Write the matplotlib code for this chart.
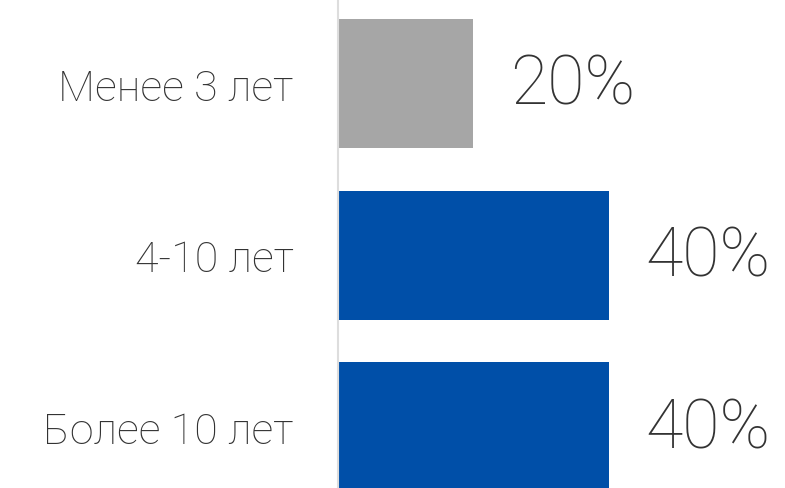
import matplotlib
matplotlib.use("Agg")
import matplotlib.pyplot as plt

categories = ["Менее 3 лет", "4-10 лет", "Более 10 лет"]
values = [20, 40, 40]
colors = ["#a6a6a6", "#004fa8", "#004fa8"]
value_labels = ["20%", "40%", "40%"]

plt.rcParams["font.family"] = ["Roboto", "DejaVu Sans"]

fig = plt.figure(figsize=(7.85, 4.89), dpi=100)
ax = fig.add_axes([338 / 785, 0, 447 / 785, 1])

pos = range(len(categories))
ax.barh(pos, values, height=0.752, color=colors, left=0)
ax.set_xlim(0, 66)
ax.set_ylim(2.355, -0.492)

# value labels to the right of each bar
for i, (v, lab) in enumerate(zip(values, value_labels)):
    ax.text(v + 5.4, i + 0.01, lab, va="center", ha="left", fontsize=49,
            color="#333333", fontweight="light")

ax.set_yticks(list(pos))
ax.set_yticklabels(categories, fontsize=31, color="#333333", fontweight="light")
ax.tick_params(axis="y", length=0, pad=32)
ax.set_xticks([])
for s in ["top", "right", "bottom"]:
    ax.spines[s].set_visible(False)
ax.spines["left"].set_color("#dddddd")
ax.spines["left"].set_linewidth(1.5)

fig.savefig("out.png", dpi=100)
